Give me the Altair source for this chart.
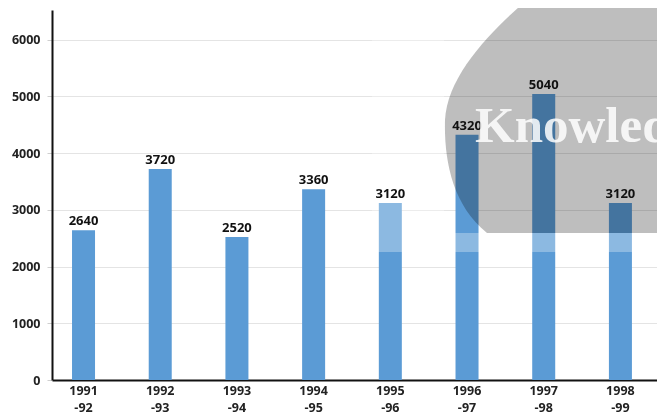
import altair as alt
import pandas as pd

# ---- data ----
years = ["1991-92", "1992-93", "1993-94", "1994-95",
         "1995-96", "1996-97", "1997-98", "1998-99"]
production = [2640, 3720, 2520, 3360, 3120, 4320, 5040, 3120]
y_ticks = [0, 1000, 2000, 3000, 4000, 5000, 6000]
watermark_text = "Knowledge"

df = pd.DataFrame({"year": years, "value": production})
one = alt.Data(values=[{"k": 1}])

FONT = "Open Sans"
BLUE = "#5b9bd5"

x = alt.X(
    "year:N", sort=years,
    scale=alt.Scale(paddingInner=0.7, paddingOuter=0.294, align=0.444),
    axis=alt.Axis(
        title=None, labelAngle=0, ticks=False,
        labelExpr="[slice(datum.label, 0, 4), slice(datum.label, 4)]",
        domainColor="#111111", domainWidth=2,
        labelFont=FONT, labelFontWeight="bold", labelFontSize=12.5,
        labelColor="#222222", labelPadding=4, labelLineHeight=17,
    ),
)
y = alt.Y(
    "value:Q",
    scale=alt.Scale(domain=[0, 6520], nice=False),
    axis=alt.Axis(
        title=None, values=y_ticks, format="d", grid=True, gridColor="#e4e4e4",
        tickColor="#cfcfcf", tickSize=5, domainColor="#111111", domainWidth=2,
        labelFont=FONT, labelFontWeight="bold", labelFontSize=12.5,
        labelColor="#222222", labelPadding=7,
    ),
)

base = alt.Chart(df).encode(x=x, y=y)
bars = base.mark_bar(color=BLUE)

# watermark decorations (pixel-positioned overlays, not data)
white_left = alt.Chart(one).mark_rect(color="white", opacity=0.3).encode(
    x=alt.value(320), x2=alt.value(392), y=alt.value(-20), y2=alt.value(242)
)
white_low = alt.Chart(one).mark_rect(color="white", opacity=0.3).encode(
    x=alt.value(392), x2=alt.value(640), y=alt.value(223), y2=alt.value(242)
)
blob = alt.Chart(one).mark_point(
    shape="M 475 -10 C 440 20 395 65 393 110 C 392 150 400 195 435 223 L 640 223 L 640 -10 Z",
    size=4, filled=True, fill="#bebebe", opacity=1, strokeOpacity=0, blend="multiply",
).encode(x=alt.value(0), y=alt.value(0))

labels = base.mark_text(
    baseline="alphabetic", dy=-5, font=FONT, fontWeight="bold",
    fontSize=13, color="#111111",
).encode(text=alt.Text("value:Q", format="d"))

wm_text = alt.Chart(one).mark_text(
    text=watermark_text, align="left", baseline="alphabetic",
    font="Liberation Serif", fontWeight="bold", fontSize=51,
    color="white", opacity=0.85,
).encode(x=alt.value(423), y=alt.value(132))

chart = alt.layer(bars, white_left, white_low, blob, labels, wm_text).properties(
    width=605, height=370,
    padding={"left": 44, "top": 2, "right": 0, "bottom": 36},
    autosize=alt.AutoSizeParams(type="none"),
).configure_view(stroke=None)

chart.save("out.html", embed_options={"renderer": "svg", "actions": False})
